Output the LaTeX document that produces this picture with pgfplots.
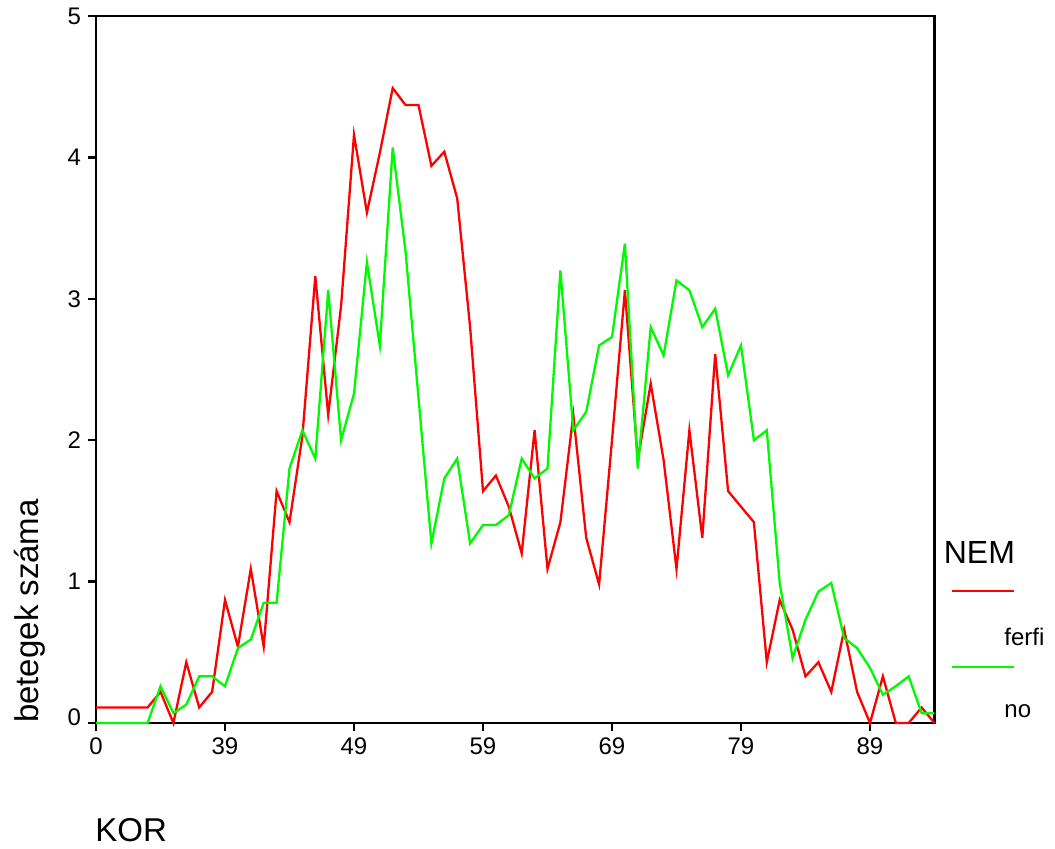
\documentclass[border=0pt]{standalone}
\usepackage{pgfplots}
\pgfplotsset{compat=1.18}
\usepackage{pgfplotstable}
\usepackage{fontspec}
\setmainfont{Liberation Sans}
\definecolor{sred}{RGB}{255,0,0}
\definecolor{sgreen}{RGB}{0,250,0}
\pgfplotstableread{
idx red green
0 0.11 0
1 0.11 0
2 0.11 0
3 0.11 0
4 0.11 0
5 0.22 0.26
6 0 0.07
7 0.43 0.13
8 0.11 0.33
9 0.22 0.33
10 0.87 0.26
11 0.54 0.53
12 1.09 0.59
13 0.54 0.85
14 1.64 0.85
15 1.42 1.80
16 2.03 2.07
17 3.16 1.87
18 2.18 3.06
19 2.95 2.00
20 4.16 2.33
21 3.61 3.26
22 4.03 2.67
23 4.49 4.07
24 4.37 3.33
25 4.37 2.30
26 3.94 1.27
27 4.04 1.73
28 3.71 1.87
29 2.80 1.27
30 1.64 1.40
31 1.75 1.40
32 1.53 1.47
33 1.20 1.87
34 2.07 1.73
35 1.09 1.80
36 1.42 3.20
37 2.18 2.07
38 1.31 2.20
39 0.98 2.67
40 2.00 2.73
41 3.06 3.39
42 1.86 1.80
43 2.40 2.80
44 1.86 2.60
45 1.09 3.13
46 2.07 3.06
47 1.31 2.80
48 2.61 2.93
49 1.64 2.46
50 1.53 2.67
51 1.42 2.00
52 0.43 2.07
53 0.87 0.99
54 0.66 0.46
55 0.33 0.73
56 0.43 0.93
57 0.22 0.99
58 0.66 0.60
59 0.22 0.53
60 0 0.39
61 0.33 0.20
62 0 0.26
63 0 0.33
64 0.11 0.07
65 0 0.07
}\datatable
\begin{document}
\begin{tikzpicture}
\useasboundingbox (0,0) rectangle (527.5pt,424pt);
\begin{axis}[
  at={(48pt,62.5pt)}, anchor=south west,
  scale only axis, width=419.25pt, height=353.5pt,
  xmin=0, xmax=65, ymin=0, ymax=5,
  axis line style={line width=1.2pt},
  every tick/.style={line width=1.2pt, black},
  tick align=outside, major tick length=4pt,
  xtick pos=left, ytick pos=left,
  xtick={0,10,20,30,40,50,60},
  xticklabels={0,39,49,59,69,79,89},
  ytick={0,1,2,3,4,5},
  yticklabels={\raisebox{5.5pt}{0},1,2,3,4,5},
  /pgf/number format/assume math mode=true,
  ticklabel style={font=\fontsize{12}{14}\selectfont},
  clip=false,
]
\addplot[sred, line width=1.15pt, no marks] table[x=idx, y=red] {\datatable};
\addplot[sgreen, line width=1.15pt, no marks] table[x=idx, y=green] {\datatable};
\end{axis}
\node[rotate=90, font=\fontsize{16.5}{18}\selectfont] at (15pt,118.5pt) {betegek száma};
\node[anchor=west, inner sep=0pt, font=\fontsize{16.5}{18}\selectfont] at (47.5pt,9pt) {KOR};
\node[anchor=west, inner sep=0pt, font=\fontsize{16}{18}\selectfont] at (471.7pt,147.85pt) {NEM};
\draw[sred, line width=1.15pt] (476pt,128.5pt) -- (507pt,128.5pt);
\node[anchor=west, inner sep=0pt, font=\fontsize{12}{14}\selectfont] at (502pt,105.65pt) {ferfi};
\draw[sgreen, line width=1.15pt] (476pt,90.65pt) -- (507pt,90.65pt);
\node[anchor=west, inner sep=0pt, font=\fontsize{12}{14}\selectfont] at (502pt,68.65pt) {no};
\end{tikzpicture}
\end{document}
